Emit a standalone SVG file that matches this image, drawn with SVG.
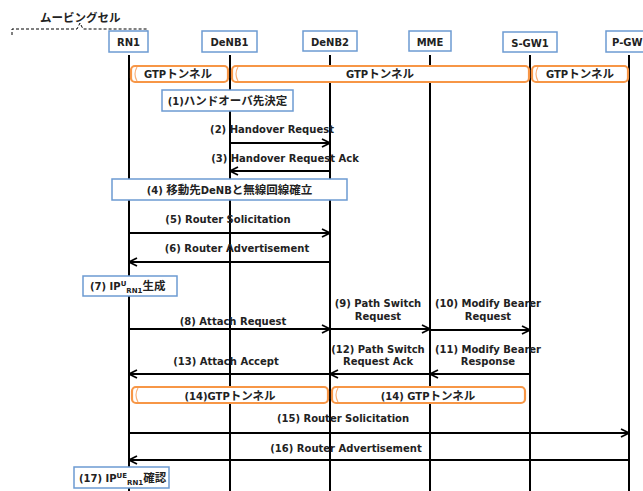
<svg xmlns="http://www.w3.org/2000/svg" width="643" height="491" viewBox="0 0 643 491">
<defs>
<style>
text{font-family:"DejaVu Sans","Noto Sans CJK JP",sans-serif;font-weight:bold;font-size:10px;fill:#222;}
.c{text-anchor:middle;}
.j{font-size:11.5px;}
.box{fill:#fff;stroke:#6C9BD2;stroke-width:1.5;}
.life{stroke:#000;stroke-width:2;fill:none;}
.msg{stroke:#000;stroke-width:1.8;fill:none;marker-end:url(#ah);}
.tun{fill:#fff;stroke:#F79646;stroke-width:2.2;}
.tunin{fill:none;stroke:#F9B27C;stroke-width:1.2;}
.sup{font-size:7px;}
</style>
<marker id="ah" viewBox="0 0 10 10" refX="9" refY="5" markerWidth="10" markerHeight="10" markerUnits="userSpaceOnUse" orient="auto">
<path d="M1,1 L9,5 L1,9" fill="none" stroke="#000" stroke-width="1.8"/>
</marker>
</defs>
<rect width="643" height="491" fill="#fff"/>

<g id="moving-cell">
<path d="M12,35 V29 H77 L80,23 L83,29 H147 V31" fill="none" stroke="#000" stroke-width="1" stroke-dasharray="3,2"/>
<text x="40" y="22" class="j">ムービングセル</text>
</g>

<g id="lifelines">
<line class="life" x1="129" y1="55" x2="129" y2="491"/>
<line class="life" x1="230" y1="55" x2="230" y2="491"/>
<line class="life" x1="330" y1="55" x2="330" y2="491"/>
<line class="life" x1="430" y1="55" x2="430" y2="491"/>
<line class="life" x1="530" y1="55" x2="530" y2="491"/>
<line class="life" x1="629" y1="55" x2="629" y2="491"/>
</g>

<g id="RN1"><rect class="box" x="109" y="31" width="39" height="21"/><text class="c" x="128.5" y="46">RN1</text></g>
<g id="DeNB1"><rect class="box" x="202" y="31" width="55" height="21"/><text class="c" x="229.5" y="46">DeNB1</text></g>
<g id="DeNB2"><rect class="box" x="303" y="31" width="54" height="20"/><text class="c" x="330" y="46">DeNB2</text></g>
<g id="MME"><rect class="box" x="409" y="31" width="42" height="20"/><text class="c" x="430" y="46">MME</text></g>
<g id="S-GW1"><rect class="box" x="503" y="32" width="54" height="20"/><text class="c" x="530" y="47">S-GW1</text></g>
<g id="P-GW"><rect class="box" x="606" y="31" width="45" height="21"/><text x="612" y="46">P-GW</text></g>

<g id="tunnels">
<g id="tun1"><rect class="tun" x="131" y="66" width="97" height="16" rx="4"/><path class="tunin" d="M137,67 Q133,74 137,81"/><text class="c" x="178" y="78">GTP<tspan class="j">トンネル</tspan></text></g>
<g id="tun2"><rect class="tun" x="232" y="66" width="297" height="16" rx="4"/><path class="tunin" d="M238,67 Q234,74 238,81"/><text class="c" x="380" y="78">GTP<tspan class="j">トンネル</tspan></text></g>
<g id="tun3"><rect class="tun" x="532" y="66" width="96" height="16" rx="4"/><path class="tunin" d="M538,67 Q534,74 538,81"/><text class="c" x="580" y="78">GTP<tspan class="j">トンネル</tspan></text></g>
<g id="tun14a"><rect class="tun" x="132" y="387" width="196" height="16" rx="4"/><path class="tunin" d="M138,388 Q134,395 138,402"/><text class="c" x="230" y="400">(14)GTP<tspan class="j">トンネル</tspan></text></g>
<g id="tun14b"><rect class="tun" x="332" y="387" width="193" height="16" rx="4"/><path class="tunin" d="M338,388 Q334,395 338,402"/><text class="c" x="428" y="400">(14) GTP<tspan class="j">トンネル</tspan></text></g>
</g>

<g id="step1"><rect class="box" x="162" y="90" width="131" height="21"/><text class="c" x="227.5" y="105">(1)<tspan class="j">ハンドオーバ先決定</tspan></text></g>
<g id="step4"><rect class="box" x="112" y="179" width="235" height="21"/><text class="c" x="229.5" y="194">(4) <tspan class="j">移動先</tspan>DeNB<tspan class="j">と無線回線確立</tspan></text></g>
<g id="step7"><rect class="box" x="83" y="276" width="94" height="20"/><text x="90" y="290">(7) IP<tspan class="sup" dy="-4">U</tspan><tspan class="sup" dy="7">RN1</tspan><tspan class="j" dy="-3">生成</tspan></text></g>
<g id="step17"><rect class="box" x="74" y="467" width="95" height="21"/><text x="79" y="482">(17) IP<tspan class="sup" dy="-4">UE</tspan><tspan class="sup" dy="7">RN1</tspan><tspan class="j" dy="-3">確認</tspan></text></g>

<g id="connectors">
<line class="msg" x1="230" y1="143" x2="330" y2="143"/>
<line class="msg" x1="330" y1="171" x2="230" y2="171"/>
<line class="msg" x1="129" y1="233" x2="330" y2="233"/>
<line class="msg" x1="330" y1="262" x2="129" y2="262"/>
<line class="msg" x1="129" y1="329" x2="330" y2="329"/>
<line class="msg" x1="330" y1="329" x2="430" y2="329"/>
<line class="msg" x1="430" y1="330" x2="530" y2="330"/>
<line class="msg" x1="530" y1="374" x2="430" y2="374"/>
<line class="msg" x1="430" y1="374" x2="330" y2="374"/>
<line class="msg" x1="330" y1="374" x2="129" y2="374"/>
<line class="msg" x1="129" y1="433" x2="629" y2="433"/>
<line class="msg" x1="629" y1="460" x2="129" y2="460"/>
</g>

<g id="labels">
<text class="c" x="272" y="133">(2) Handover Request</text>
<text class="c" x="285" y="162">(3) Handover Request Ack</text>
<text class="c" x="228" y="223">(5) Router Solicitation</text>
<text class="c" x="237" y="252">(6) Router Advertisement</text>
<text class="c" x="233" y="325">(8) Attach Request</text>
<text class="c" x="378" y="307">(9) Path Switch</text>
<text class="c" x="378" y="320">Request</text>
<text class="c" x="488" y="307">(10) Modify Bearer</text>
<text class="c" x="488" y="320">Request</text>
<text class="c" x="378" y="353">(12) Path Switch</text>
<text class="c" x="378" y="365">Request Ack</text>
<text class="c" x="488" y="353">(11) Modify Bearer</text>
<text class="c" x="488" y="365">Response</text>
<text class="c" x="226" y="365">(13) Attach Accept</text>
<text class="c" x="343" y="422">(15) Router Solicitation</text>
<text class="c" x="346" y="452">(16) Router Advertisement</text>
</g>
</svg>
